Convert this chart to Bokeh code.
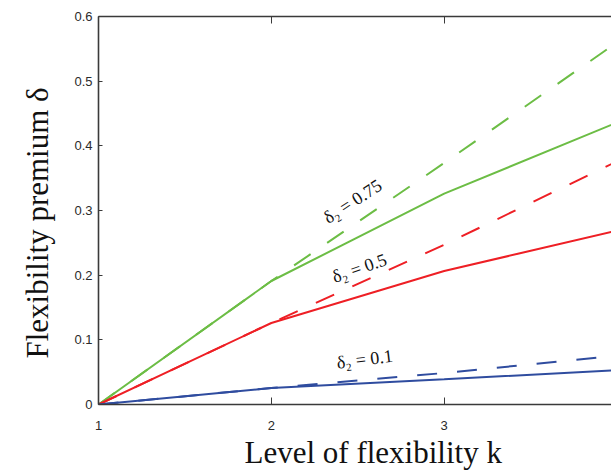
from bokeh.plotting import figure
from bokeh.models import Label, LinearAxis, FixedTicker, Range1d, Title
from bokeh.embed import file_html
from bokeh.resources import INLINE

# ---- data ----
k = [1, 2, 3, 4]
solid_075 = [0.0, 0.191, 0.326, 0.436]
dashed_075 = [0.0, 0.191, 0.3735, 0.560]
solid_05 = [0.0, 0.126, 0.2064, 0.269]
dashed_05 = [0.0, 0.126, 0.247, 0.376]
solid_01 = [0.0, 0.0255, 0.039, 0.053]
dashed_01 = [0.0, 0.0255, 0.0487, 0.0755]

x_ticks = [1, 2, 3]
x_tick_labels = ["1", "2", "3"]
y_ticks = [0, 0.1, 0.2, 0.3, 0.4, 0.5, 0.6]
y_tick_labels = ["0", "0.1", "0.2", "0.3", "0.4", "0.5", "0.6"]

x_title = "Level of flexibility k"
y_title = "Flexibility premium \u03b4"
series_labels = ["\u03b4\u2082 = 0.75", "\u03b4\u2082 = 0.5", "\u03b4\u2082 = 0.1"]

# ---- style ----
GREEN = "#6cbd45"
RED = "#ee1f25"
BLUE = "#2f4c9f"
AXIS_COLOR = "#3a3a3a"
SERIF = "Liberation Serif"
SANS = "Liberation Sans"

p = figure(width=611, height=471, output_backend="svg", toolbar_location=None,
           x_range=Range1d(1, 3.968), y_range=Range1d(0, 0.6),
           min_border_left=96, min_border_right=0, min_border_top=16,
           min_border_bottom=67, x_axis_type=None, y_axis_type=None)
p.outline_line_color = None
p.grid.visible = False
p.background_fill_color = "white"
p.border_fill_color = "white"

for ys, c in [(solid_075, GREEN), (solid_05, RED), (solid_01, BLUE)]:
    p.line(k, ys, line_color=c, line_width=2)
for ys, c in [(dashed_075, GREEN), (dashed_05, RED), (dashed_01, BLUE)]:
    p.line(k, ys, line_color=c, line_width=2, line_dash="20 20")

# axes
xb = LinearAxis(ticker=FixedTicker(ticks=x_ticks),
                major_label_overrides={t: l for t, l in zip(x_ticks, x_tick_labels)})
xt = LinearAxis(ticker=FixedTicker(ticks=x_ticks),
                major_label_overrides={t: "" for t in x_ticks})
yl = LinearAxis(ticker=FixedTicker(ticks=y_ticks),
                major_label_overrides={t: l for t, l in zip(y_ticks, y_tick_labels)})
for ax in (xb, xt, yl):
    ax.major_tick_out = 0
    ax.minor_tick_line_color = None
    ax.axis_line_color = AXIS_COLOR
    ax.axis_line_width = 1.6
    ax.major_tick_line_color = AXIS_COLOR
    ax.major_label_text_font = SANS
    ax.major_label_text_font_size = "13px"
    ax.major_label_text_color = "#2a2a2a"
xb.major_tick_in = 7
xt.major_tick_in = 7
yl.major_tick_in = 4
xb.major_label_standoff = 16
xt.major_label_standoff = 0
yl.major_label_standoff = 6
p.add_layout(xb, "below")
p.add_layout(xt, "above")
p.add_layout(yl, "left")

# axis titles
p.add_layout(Title(text=x_title, align="left", offset=146, standoff=0,
                   text_font=SERIF, text_font_size="31px", text_font_style="normal",
                   text_color="#111111"), "below")
p.add_layout(Title(text=y_title, align="left", offset=46, standoff=34,
                   text_font=SERIF, text_font_size="31px", text_font_style="normal",
                   text_color="#111111"), "left")

# series annotations
label_pos = [(2.47, 0.314, 33), (2.51, 0.211, 19), (2.54, 0.070, 7)]
for txt, (lx, ly, ang) in zip(series_labels, label_pos):
    p.add_layout(Label(x=lx, y=ly, text=txt, text_font=SERIF, text_font_size="18px",
                       text_color="#111111", text_align="center", text_baseline="middle",
                       angle=ang, angle_units="deg"))

open("out.html", "w").write(file_html(p, INLINE))
